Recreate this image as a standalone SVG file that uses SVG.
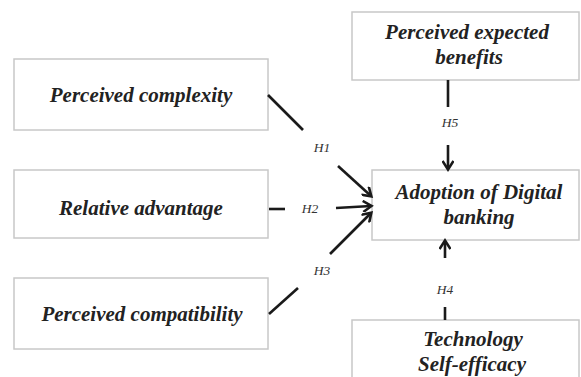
<svg xmlns="http://www.w3.org/2000/svg" width="581" height="377" viewBox="0 0 581 377">
<defs>
<marker id="ah" markerWidth="12" markerHeight="12" refX="9" refY="6" orient="auto" markerUnits="userSpaceOnUse">
<path d="M1,0.5 L9.5,6 L1,11.5" fill="none" stroke="#1a1a1a" stroke-width="2.6"/>
</marker>
<style>
.box{fill:#ffffff;stroke:#c8c8c8;stroke-width:1.5}
.t{font-family:"Liberation Serif","Times New Roman",serif;font-style:italic;font-weight:bold;font-size:21px;fill:#222;text-anchor:middle}
.h{font-family:"Liberation Serif","Times New Roman",serif;font-style:italic;font-size:13.5px;fill:#333;text-anchor:middle}
.ln{stroke:#1a1a1a;stroke-width:2.6;fill:none}
</style>
</defs>
<rect width="581" height="377" fill="#ffffff"/>
<g id="perceived-complexity">
<rect class="box" x="14" y="59" width="254" height="71"/>
<text class="t" x="141" y="102">Perceived complexity</text>
</g>
<g id="relative-advantage">
<rect class="box" x="14" y="170" width="254" height="68"/>
<text class="t" x="141" y="215">Relative advantage</text>
</g>
<g id="perceived-compatibility">
<rect class="box" x="14" y="278" width="254" height="71"/>
<text class="t" x="142" y="321">Perceived compatibility</text>
</g>
<g id="perceived-expected-benefits">
<rect class="box" x="352" y="12" width="227" height="68"/>
<text class="t" x="467" y="39">Perceived expected</text>
<text class="t" x="469" y="64">benefits</text>
</g>
<g id="adoption">
<rect class="box" x="372" y="170" width="207" height="70"/>
<text class="t" x="479" y="199">Adoption of Digital</text>
<text class="t" x="479" y="224">banking</text>
</g>
<g id="technology-self-efficacy">
<rect class="box" x="352" y="320" width="227" height="70"/>
<text class="t" x="473" y="346">Technology</text>
<text class="t" x="472" y="371">Self-efficacy</text>
</g>
<g id="connectors">
<line class="ln" x1="268" y1="95" x2="303" y2="130"/>
<line class="ln" x1="338" y1="166" x2="371" y2="196" marker-end="url(#ah)"/>
<text class="h" x="322" y="152">H1</text>
<line class="ln" x1="269" y1="209" x2="285" y2="209"/>
<line class="ln" x1="336" y1="208" x2="371" y2="206" marker-end="url(#ah)"/>
<text class="h" x="310" y="213">H2</text>
<line class="ln" x1="269" y1="314" x2="298" y2="288"/>
<line class="ln" x1="330" y1="254" x2="371" y2="213" marker-end="url(#ah)"/>
<text class="h" x="322" y="275">H3</text>
<line class="ln" x1="448" y1="80" x2="448" y2="107"/>
<line class="ln" x1="448" y1="145" x2="448" y2="169" marker-end="url(#ah)"/>
<text class="h" x="450" y="127">H5</text>
<line class="ln" x1="445" y1="320" x2="445" y2="307"/>
<line class="ln" x1="445" y1="258" x2="445" y2="241" marker-end="url(#ah)"/>
<text class="h" x="445" y="294">H4</text>
</g>
</svg>
